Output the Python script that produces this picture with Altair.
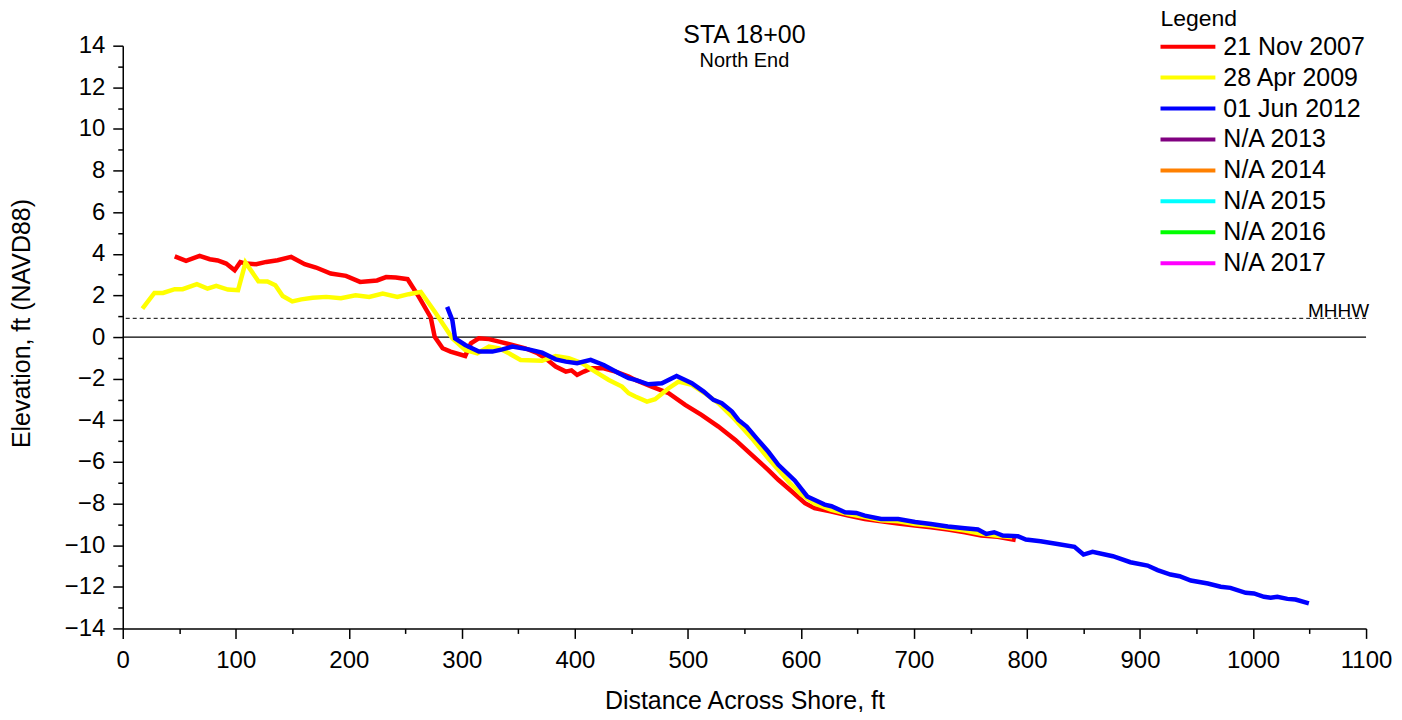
import altair as alt
import pandas as pd

# ---------------- data ----------------
series_names = ["21 Nov 2007", "28 Apr 2009", "01 Jun 2012", "N/A 2013",
                "N/A 2014", "N/A 2015", "N/A 2016", "N/A 2017"]
series_colors = ["#FF0000", "#FFFF00", "#0000FF", "#800080",
                 "#FF8000", "#00FFFF", "#00FF00", "#FF00FF"]

x_2007 = [46, 56, 68, 77, 84, 91.5, 99, 104, 109, 118, 127, 137, 149, 161, 171,
          184, 197.5, 210, 225, 233, 241.6, 252, 262, 272.5, 276, 283, 290, 303,
          308, 315, 324, 333, 344.6, 356, 367, 374, 383, 392, 397, 402, 408, 415,
          425.5, 436, 447.6, 453.5, 468, 483, 497.6, 512, 527, 542, 556.5, 571,
          580, 592, 603.6, 612, 627, 642, 656.5, 671, 686, 701, 715, 730, 745,
          759.5, 774, 790]
y_2007 = [3.88, 3.66, 3.9, 3.74, 3.68, 3.53, 3.21, 3.6, 3.53, 3.5, 3.61, 3.69,
          3.85, 3.5, 3.34, 3.05, 2.94, 2.65, 2.72, 2.88, 2.86, 2.78, 1.93, 0.94,
          0.01, -0.54, -0.7, -0.91, -0.3, -0.06, -0.1, -0.22, -0.38, -0.54, -0.78,
          -1.02, -1.42, -1.66, -1.6, -1.82, -1.66, -1.5, -1.5, -1.66, -1.9, -2.06,
          -2.38, -2.7, -3.26, -3.74, -4.3, -4.94, -5.66, -6.38, -6.86, -7.42,
          -7.98, -8.22, -8.38, -8.58, -8.74, -8.85, -8.96, -9.06, -9.14, -9.25,
          -9.38, -9.54, -9.6, -9.75]

x_2009 = [17.4, 28, 35.6, 46, 53, 65.6, 75, 82.7, 93, 102, 108.6, 120, 128, 135,
          141.5, 150, 158, 168, 180, 193, 206, 218, 230, 243, 253, 263.7, 277,
          291.6, 303, 313.7, 324, 333, 341.6, 352, 371, 383, 394.6, 406.5, 418,
          430, 441.7, 447.6, 453.5, 463.8, 471, 483, 491.7, 503.5, 515, 527, 542,
          556.5, 571, 580, 590, 600.6, 612, 627, 642, 656.5, 671, 686, 701, 715,
          730, 745, 759.5, 774, 787]
y_2009 = [1.37, 2.12, 2.12, 2.3, 2.3, 2.54, 2.33, 2.46, 2.28, 2.25, 3.58, 2.68,
          2.67, 2.49, 1.97, 1.71, 1.81, 1.89, 1.93, 1.87, 2.01, 1.93, 2.09, 1.93,
          2.06, 2.17, 1.14, -0.06, -0.62, -0.78, -0.46, -0.54, -0.78, -1.1, -1.14,
          -0.91, -1.02, -1.26, -1.66, -2.06, -2.38, -2.7, -2.86, -3.1, -2.99,
          -2.46, -2.14, -2.3, -2.7, -3.18, -3.98, -4.86, -5.82, -6.38, -7.0,
          -7.57, -8.0, -8.3, -8.5, -8.65, -8.8, -8.85, -8.98, -9.06, -9.18, -9.3,
          -9.45, -9.55, -9.62]

x_2012 = [287, 291.6, 294, 303, 315, 327, 336, 344.6, 359, 371, 383, 392, 402,
          414, 425.5, 439, 447.6, 453.5, 465, 477, 490, 503.5, 514, 522.6, 530,
          539, 544.7, 552, 562, 571, 580, 594.7, 605.6, 621, 627, 639, 649, 656.5,
          671, 686, 701, 715, 730, 745, 756.6, 764, 771, 778.6, 792, 799, 812,
          827, 842, 850, 858, 876, 891.5, 906.7, 915.5, 927, 935, 945, 960,
          971.4, 980, 993.5, 1000.8, 1009.7, 1015.6, 1021.5, 1030.4, 1037.6,
          1049.4]
y_2012 = [1.45, 0.81, -0.06, -0.38, -0.7, -0.7, -0.59, -0.46, -0.59, -0.75,
          -1.07, -1.18, -1.26, -1.1, -1.34, -1.74, -1.98, -2.06, -2.27, -2.22,
          -1.87, -2.22, -2.62, -3.02, -3.18, -3.58, -3.98, -4.3, -4.94, -5.5,
          -6.14, -6.9, -7.66, -8.05, -8.13, -8.42, -8.45, -8.58, -8.74, -8.74,
          -8.89, -8.98, -9.1, -9.19, -9.25, -9.46, -9.38, -9.54, -9.57, -9.73,
          -9.81, -9.94, -10.08, -10.45, -10.32, -10.53, -10.82, -10.98, -11.2,
          -11.41, -11.49, -11.7, -11.84, -12.0, -12.05, -12.29, -12.32, -12.48,
          -12.53, -12.48, -12.58, -12.61, -12.8]

ref_levels = [0.0]          # zero line
mhhw_level = [0.9]          # MHHW
mhhw_label = ["MHHW"]
legend_title = ["Legend"]

# ---------------- tables ----------------
rows = []
for name, xs, ys in [(series_names[0], x_2007, y_2007),
                     (series_names[1], x_2009, y_2009),
                     (series_names[2], x_2012, y_2012)]:
    for xv, yv in zip(xs, ys):
        rows.append({"series": name, "distance": xv, "elevation": yv})
df = pd.DataFrame(rows)

zero_df = pd.DataFrame({"level": ref_levels})
mhhw_df = pd.DataFrame({"level": mhhw_level, "x": [1100], "label": mhhw_label})
legend_df = pd.DataFrame({"series": series_names, "row": list(range(len(series_names)))})
legend_title_df = pd.DataFrame({"label": legend_title, "row": [-0.68]})

FONT = "Liberation Sans"

x_scale = alt.Scale(domain=[0, 1100], nice=False, zero=False)
y_scale = alt.Scale(domain=[-14, 14], nice=False, zero=False)
color_scale = alt.Scale(domain=series_names, range=series_colors)
# legend rows: 31 px apart, first row 1 px below the plot top
legend_row_scale = alt.Scale(domain=[0, 7], range=[1, 218], nice=False, zero=False)

x_axis = alt.Axis(
    title="Distance Across Shore, ft",
    values=list(range(0, 1101, 50)), format="d",
    labelExpr="datum.value % 100 === 0 ? datum.label : ''",
    tickSize={"condition": {"test": "datum.value % 100 === 0", "value": 10}, "value": 5},
    labelOverlap=False, labelFlush=False, grid=False,
    domainColor="black", domainWidth=1.5, tickColor="black", tickWidth=1.5,
    labelFont=FONT, labelFontSize=24, labelColor="black", labelPadding=10,
    titleFont=FONT, titleFontSize=25, titleFontWeight="normal", titleColor="black",
    titlePadding=16,
)
y_axis = alt.Axis(
    title="Elevation, ft (NAVD88)",
    values=list(range(-14, 15, 1)), format="d",
    labelExpr="datum.value % 2 === 0 ? datum.label : ''",
    tickSize={"condition": {"test": "datum.value % 2 === 0", "value": 10}, "value": 5},
    labelOverlap=False, labelFlush=False, grid=False,
    domainColor="black", domainWidth=1.5, tickColor="black", tickWidth=1.5,
    labelFont=FONT, labelFontSize=24, labelColor="black", labelPadding=8,
    titleFont=FONT, titleFontSize=25, titleFontWeight="normal", titleColor="black",
    titlePadding=30, titleY=278,
)

zero_line = alt.Chart(zero_df).mark_rule(color="black", strokeWidth=1.3).encode(
    y=alt.Y("level:Q", scale=y_scale, axis=y_axis)
)
mhhw_line = alt.Chart(mhhw_df).mark_rule(color="black", strokeWidth=1, strokeDash=[4, 3]).encode(
    y=alt.Y("level:Q", scale=y_scale, axis=None)
)
mhhw_text = alt.Chart(mhhw_df).mark_text(
    align="right", baseline="alphabetic", dx=3, dy=-1, fontSize=19, font=FONT, color="black"
).encode(
    x=alt.X("x:Q", scale=x_scale, axis=x_axis),
    y=alt.Y("level:Q", scale=y_scale, axis=None),
    text="label:N",
)

line_layers = []
for name in series_names[:3]:
    line_layers.append(
        alt.Chart(df).transform_filter(alt.datum.series == name).mark_line(strokeWidth=4.5).encode(
            x=alt.X("distance:Q", scale=x_scale, axis=x_axis),
            y=alt.Y("elevation:Q", scale=y_scale, axis=None),
            color=alt.Color("series:N", scale=color_scale, legend=None),
        )
    )

# ---------------- legend (drawn as marks) ----------------
legend_lines = alt.Chart(legend_df).mark_rule(strokeWidth=4).encode(
    y=alt.Y("row:Q", scale=legend_row_scale, axis=None),
    x=alt.value(1040), x2=alt.value(1095),
    color=alt.Color("series:N", scale=color_scale, legend=None),
)
legend_labels = alt.Chart(legend_df).mark_text(
    align="left", baseline="middle", fontSize=25, font=FONT, color="black"
).encode(
    y=alt.Y("row:Q", scale=legend_row_scale, axis=None),
    x=alt.value(1103),
    text="series:N",
)
legend_head = alt.Chart(legend_title_df).mark_text(
    align="left", baseline="alphabetic", fontSize=23, font=FONT, color="black"
).encode(
    y=alt.Y("row:Q", scale=legend_row_scale, axis=None),
    x=alt.value(1040),
    text="label:N",
)

chart = alt.layer(
    zero_line, mhhw_line, *line_layers, mhhw_text,
    legend_lines, legend_labels, legend_head,
).resolve_scale(y="independent").properties(
    width=1246, height=584,
    autosize=alt.AutoSizeParams(type="none"),
    padding={"left": 115, "top": 37, "right": 28, "bottom": 83},
    title=alt.TitleParams(
        text="STA 18+00", subtitle="North End", anchor="middle", frame="group",
        font=FONT, fontSize=25, fontWeight="normal", color="black",
        subtitleFont=FONT, subtitleFontSize=20, subtitleColor="black",
        subtitlePadding=3, offset=-63,
    ),
).configure_view(stroke="transparent")

chart.save("out.html", embed_options={"renderer": "svg", "actions": False})
